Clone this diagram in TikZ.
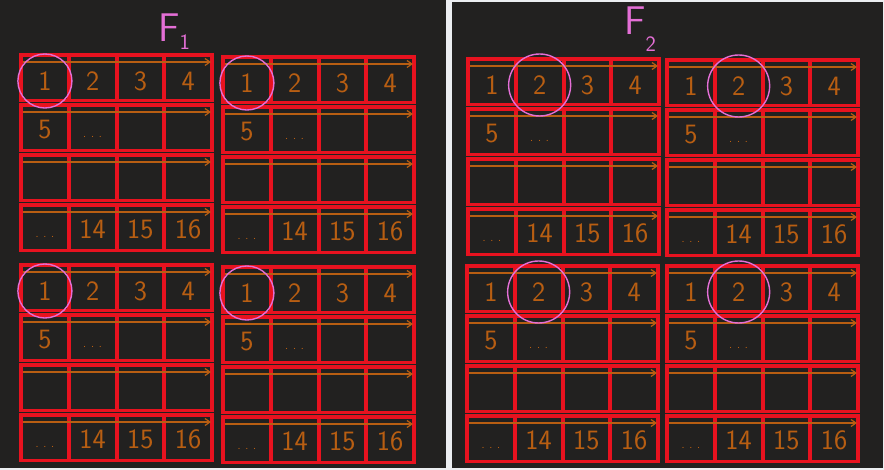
\documentclass[tikz,border=0pt]{standalone}
\usepackage{xcolor}
\usepackage{tikz}
\usetikzlibrary{arrows.meta}

\definecolor{board}{HTML}{222120}
\definecolor{paper}{HTML}{ECEEF1}
\definecolor{gridred}{HTML}{E8121F}
\definecolor{ink}{HTML}{B85E12}
\definecolor{chalkpink}{HTML}{E46FD6}

\tikzset{
  rowbox/.style={draw=gridred, line width=3.2pt},
  rowarrow/.style={draw=ink, line width=1.2pt, -{Straight Barb[length=5pt,width=7pt]}},
  digit/.style={text=ink, inner sep=0pt, font=\sffamily\fontsize{28}{28}\selectfont},
  dots/.style={text=ink, inner sep=0pt, font=\sffamily\fontsize{13}{13}\selectfont},
  pick/.style={draw=chalkpink, line width=1.4pt},
  flabel/.style={text=chalkpink, inner sep=0pt, font=\sffamily\fontsize{40}{40}\selectfont},
}

% #1 name, #2 x, #3 y, #4 circled column, #5 circle radius
\newcommand{\gridat}[5]{%
  \foreach \r in {0,...,3}{
    %draw row box and column lines
    \draw[rowbox] (#2,#3+\r*50) rectangle ++(191,45.5);
    \foreach \c in {48,96,143}{
      \draw[rowbox] (#2+\c,#3+\r*50) -- ++(0,45.5);
    }
    %draw row arrow
    \coordinate (#1-s\r) at (#2+2,#3+\r*50+7);
    \coordinate (#1-e\r) at (#2+190,#3+\r*50+7);
    \draw[rowarrow] (#1-s\r) -- (#1-e\r);
  }
  %draw cell texts
  \foreach \t [count=\c from 0] in {1,2,3,4}{
    \node[digit] (#1-a\c) at (#2+\c*47.75+23.9,#3+26) {\t};
  }
  \node[digit] (#1-b0) at (#2+23.9,#3+75) {5};
  \node[dots] (#1-b1) at (#2+71.6,#3+82) {.\,\,.\,\,.};
  \node[dots] (#1-d0) at (#2+23.9,#3+182) {.\,\,.\,\,.};
  \foreach \t [count=\c] in {14,15,16}{
    \node[digit] (#1-d\c) at (#2+\c*47.75+23.9,#3+174) {\t};
  }
  %draw circle
  \draw[pick] (#1-a#4.center) circle[radius=#5];
}

\begin{document}
\begin{tikzpicture}[x=1pt,y=-1pt]
\useasboundingbox (0,0) rectangle (884,470);
%draw background
\fill[paper] (0,0) rectangle (884,470);
\fill[board] (0,0) rectangle (446,468);
\fill[board] (452,2) rectangle (883,468);
%draw grids
\gridat{ga}{21}{55}{0}{27}
\gridat{gb}{223}{57}{0}{27}
\gridat{gc}{21}{265}{0}{27}
\gridat{gd}{223}{267}{0}{27}
\gridat{ge}{468}{59}{1}{31}
\gridat{gf}{667}{60}{1}{31}
\gridat{gg}{467}{266}{1}{31}
\gridat{gh}{667}{266}{1}{31}
%draw labels
\node[flabel, anchor=base west] (fone) at (158,42) {F\raisebox{-0.2em}{\fontsize{22}{22}\selectfont 1}};
\node[flabel, anchor=base west] (ftwo) at (624,35) {F\raisebox{-0.42em}{\fontsize{22}{22}\selectfont 2}};
\end{tikzpicture}
\end{document}
